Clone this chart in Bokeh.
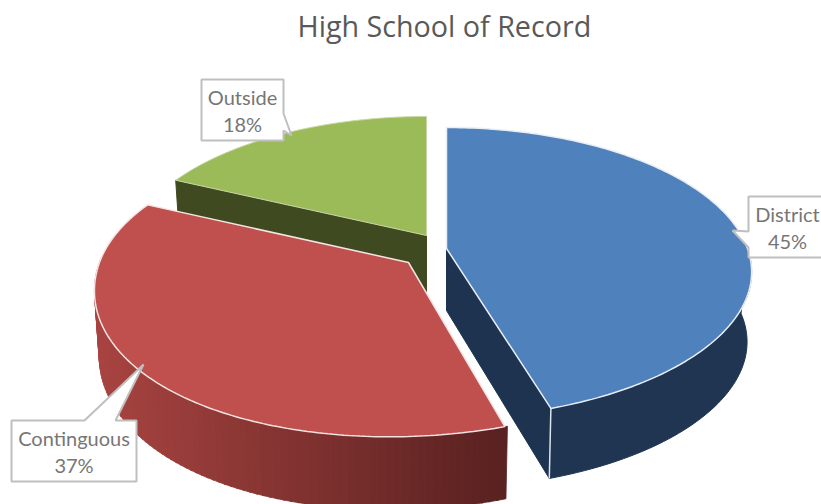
import numpy as np
from bokeh.embed import file_html
from bokeh.models import Range1d
from bokeh.plotting import figure
from bokeh.resources import INLINE
from bokeh.core.properties import value

TITLE = "High School of Record"
categories = ["District", "Continguous", "Outside"]
shares = [45, 37, 18]
top_colors = ["#4F81BD", "#C0504D", "#9BBB59"]

# layout of the projected pie (pixels of the 821x504 picture)
APEX = {"District": (446, 248), "Continguous": (408, 262), "Outside": (426, 235)}
RX = {"District": 301, "Continguous": 309, "Outside": 297}
SY = {"District": 141.3, "Continguous": 145, "Outside": 139}
LEAN = {"District": 7, "Continguous": 19, "Outside": 0}
DEPTH = {"District": 70, "Continguous": 63, "Outside": 60}
K = 0.168
SHRINK = 0.985
BOX = {"District": (748, 196, 830, 257), "Continguous": (11, 420, 136, 481), "Outside": (201, 79, 283, 140)}
TAIL = {"District": [(748, 231), (732, 230), (748, 247)],
        "Continguous": [(84, 420), (143, 364), (115, 420)],
        "Outside": [(283, 113), (291, 135), (283, 130)]}

p = figure(width=821, height=504, output_backend="svg", toolbar_location=None,
           title=TITLE, x_range=Range1d(0, 821), y_range=Range1d(504, 46),
           min_border=0, min_border_top=46, outline_line_color=None)
p.axis.visible = False
p.grid.visible = False
p.title.text_font = "Open Sans"
p.title.text_font_size = "28.7px"
p.title.text_font_style = "normal"
p.title.text_color = "#595959"
p.title.align = "left"
p.title.offset = 297
p.title.standoff = 4


def rim(name, deg):
    t = np.radians(deg)
    u, v = np.sin(t), np.cos(t)
    w = 1 + K * v
    ax, ay = APEX[name]
    lean = LEAN[name] * np.where(v < 0, v * v, 0.0)
    return ax + RX[name] * u / w - lean, ay - SY[name] * v / w, v


def lower(name, x, y, v):
    ax = APEX[name][0]
    if name == "District":
        return ax + (x - ax) * SHRINK, y + DEPTH[name]
    return ax + (x - ax) * SHRINK, y + DEPTH[name] * (1 - 0.16 * v)


def outer_wall(name, a, b, n=30):
    d = np.linspace(a, b, n)
    xs, ys, v = rim(name, d)
    bx, by = lower(name, xs, ys, v)
    return list(xs) + list(bx[::-1]), list(ys) + list(by[::-1])


def top_face(name, a, b, n=160):
    xs, ys, _ = rim(name, np.linspace(a, b, n))
    ax, ay = APEX[name]
    return [ax] + list(xs) + [ax], [ay] + list(ys) + [ay]


def inner_wall(name, deg, apex_depth=None):
    x, y, v = rim(name, deg)
    ax, ay = APEX[name]
    bx, by = lower(name, x, y, v)
    ay2 = ay + (DEPTH[name] if apex_depth is None else apex_depth)
    return [ax, x, bx, ax], [ay, y, by, ay2]


edges = np.cumsum([0] + shares) * 3.6
span = dict(zip(categories, zip(edges[:-1], edges[1:])))

# Outside: dark cut face, then top
a, b = span["Outside"]
xs, ys = inner_wall("Outside", a)
p.patch(xs, ys, fill_color="#3F4A20", line_color="#3F4A20")
xs, ys = top_face("Outside", a, b)
p.patch(xs, ys, fill_color=top_colors[2], line_color="#C9D6A8", line_width=1)

# Continguous: shaded outer wall in slabs, then top
a, b = span["Continguous"]
lo, hi = np.array([0x5A, 0x22, 0x21]), np.array([0xA8, 0x44, 0x41])
steps = np.linspace(272, a, 91)
for s0, s1 in zip(steps[:-1], steps[1:]):
    xs, ys = outer_wall("Continguous", s0, s1 - 0.4, 4)
    f = (np.mean(xs) - 100) / 400
    c = hi + (lo - hi) * np.clip(f, 0, 1)
    col = "#%02X%02X%02X" % tuple(int(q) for q in c)
    p.patch(xs, ys, fill_color=col, line_color=col, line_width=0.8)
xs, ys = top_face("Continguous", a, b)
p.patch(xs, ys, fill_color=top_colors[1], line_color="#F4E4E3", line_width=1.5)

# District: cut face, outer wall, then top
a, b = span["District"]
xs, ys = inner_wall("District", b, apex_depth=62)
p.patch(xs, ys, fill_color="#1D334F", line_color="#1D334F")
xs, ys = outer_wall("District", 88, b, 60)
p.patch(xs, ys, fill_color="#1F3552", line_color="#1F3552")
x0, y0, v0 = rim("District", b)
bx, by = lower("District", x0, y0, v0)
p.line([x0, bx], [y0, by], line_color="#DDE3EA", line_width=1.5)
xs, ys = top_face("District", a, b)
p.patch(xs, ys, fill_color=top_colors[0], line_color="#E8EEF5", line_width=1.5)

# Callouts
for name, share in zip(categories, shares):
    x0, y0, x1, y1 = BOX[name]
    t = TAIL[name]
    if name == "Continguous":
        xs = [x0, t[0][0], t[1][0], t[2][0], x1, x1, x0]
        ys = [y0, y0, t[1][1], y0, y0, y1, y1]
    elif name == "Outside":
        xs = [x0, x1, x1, t[1][0], x1, x1, x0]
        ys = [y0, y0, t[0][1], t[1][1], t[2][1], y1, y1]
    else:
        xs = [x0, x1, x1, x0, x0, t[1][0], x0]
        ys = [y0, y0, y1, y1, t[2][1], t[1][1], t[0][1]]
    p.patch(xs, ys, fill_color="white", line_color="#BFBFBF", line_width=2)
    cx = (x0 + x1) / 2 if name != "District" else 787
    cy = (y0 + y1) / 2
    p.text([cx], [cy - 13], text=[name], text_font=value("Lato"), text_font_size="20px",
           text_color="#767676", text_align="center", text_baseline="middle")
    p.text([cx], [cy + 14], text=[f"{share}%"], text_font=value("Lato"), text_font_size="20px",
           text_color="#767676", text_align="center", text_baseline="middle")

open("out.html", "w").write(file_html(p, INLINE))
